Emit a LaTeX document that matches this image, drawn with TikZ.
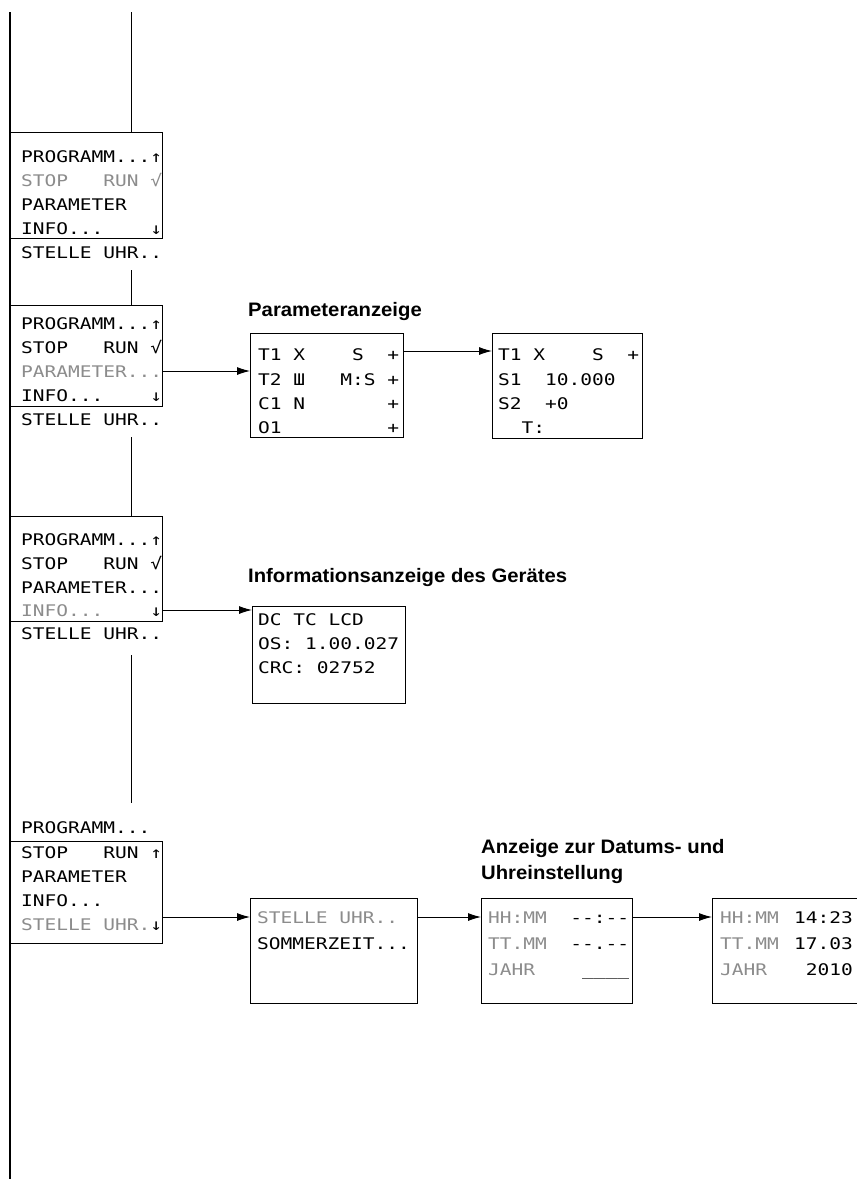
\documentclass[tikz,border=0pt]{standalone}
\usepackage{fontspec}
\usetikzlibrary{arrows.meta}
\newfontfamily\lcd{DejaVu Sans Mono}[FakeStretch=1.22]
\newfontfamily\titelfont{Liberation Sans}[FakeStretch=1.04]
\newcommand\lcdschrift{\lcd\fontsize{16}{16}\selectfont\frenchspacing\spaceskip=\fontcharwd\font`0\relax}
\newcommand\titelschrift{\titelfont\bfseries\fontsize{19.5}{22}\selectfont}
\definecolor{grau}{gray}{0.55}

\begin{document}
\begin{tikzpicture}[x=1pt,y=-1pt]
    % Stile
    \tikzset{
        rahmen/.style={draw, line width=1.1pt, inner sep=0pt, anchor=north west},
        zeile/.style={anchor=base west, inner sep=0pt, font=\lcdschrift},
        aus/.style={zeile, text=grau},
        wert/.style={zeile, anchor=base east},
        titel/.style={anchor=base west, inner sep=0pt, font=\titelschrift},
        pfeil/.style={-{Latex[length=13pt,width=8pt]}, line width=0.9pt},
        linie/.style={line width=0.9pt}
    }
    \useasboundingbox (0,0) rectangle (857,1179);
    \clip (0,0) rectangle (857,1179);

    % Linke Randlinie
    \coordinate (l0) at (10,12);
    \coordinate (l1) at (10,1179);
    \draw[line width=1.2pt] (l0) -- (l1);

    % Menue 1
    \node[rahmen, minimum width=152pt, minimum height=106pt] (m1) at (10,132) {};
    \node[zeile] (m1a) at (21,162) {PROGRAMM...↑};
    \node[aus]   (m1b) at (21,186) {STOP~~~RUN~√};
    \node[zeile] (m1c) at (21,210) {PARAMETER};
    \node[zeile] (m1d) at (21,234) {INFO...~~~~↓};
    \node[zeile] (m1e) at (21,258) {STELLE UHR..};

    % Menue 2
    \node[rahmen, minimum width=152pt, minimum height=101pt] (m2) at (10,305) {};
    \node[zeile] (m2a) at (21,329) {PROGRAMM...↑};
    \node[zeile] (m2b) at (21,353) {STOP~~~RUN~√};
    \node[aus]   (m2c) at (21,377) {PARAMETER...};
    \node[zeile] (m2d) at (21,401) {INFO...~~~~↓};
    \node[zeile] (m2e) at (21,425) {STELLE UHR..};

    % Menue 3
    \node[rahmen, minimum width=152pt, minimum height=105pt] (m3) at (10,516) {};
    \node[zeile] (m3a) at (21,545) {PROGRAMM...↑};
    \node[zeile] (m3b) at (21,569) {STOP~~~RUN~√};
    \node[zeile] (m3c) at (21,593) {PARAMETER...};
    \node[zeile] (m3d) at (21,616) {{\color{grau}INFO...}~~~~↓};
    \node[zeile] (m3e) at (21,639) {STELLE UHR..};

    % Menue 4
    \node[zeile] (m4a) at (21,833) {PROGRAMM...};
    \node[rahmen, minimum width=152pt, minimum height=102pt] (m4) at (10,841) {};
    \node[zeile] (m4b) at (21,858) {STOP~~~RUN~↑};
    \node[zeile] (m4c) at (21,882) {PARAMETER};
    \node[zeile] (m4d) at (21,906) {INFO...};
    \node[zeile] (m4e) at (21,930) {{\color{grau}STELLE UHR.}↓};

    % Senkrechte Verbindungen
    \coordinate (v1) at (131,12);
    \coordinate (v2) at (131,270);
    \coordinate (v3) at (131,437);
    \coordinate (v4) at (131,655);
    \coordinate (v5) at (131,803);
    \draw[linie] (v1) -- (v1 |- m1.north);
    \draw[linie] (v2) -- (v2 |- m2.north);
    \draw[linie] (v3) -- (v3 |- m3.north);
    \draw[linie] (v4) -- (v5);

    % Parameteranzeige
    \node[titel] (t1) at (248,316) {Parameteranzeige};
    \node[rahmen, minimum width=153pt, minimum height=104pt] (p1) at (250,333) {};
    \node[zeile] (p1a) at (258,360) {T1 X~~~~S~~+};
    \node[zeile] (p1b) at (258,385) {T2 Ш~~~M:S~+};
    \node[zeile] (p1c) at (258,409) {C1 N~~~~~~~+};
    \node[zeile] (p1d) at (258,433) {O1~~~~~~~~~+};
    \node[rahmen, minimum width=150pt, minimum height=105pt] (p2) at (492,333) {};
    \node[zeile] (p2a) at (498,360) {T1 X~~~~S~~+};
    \node[zeile] (p2b) at (498,385) {S1~~10.000};
    \node[zeile] (p2c) at (498,409) {S2~~+0};
    \node[zeile] (p2d) at (498,433) {~~T:};

    % Informationsanzeige
    \node[titel] (t2) at (248,582) {Informationsanzeige des Gerätes};
    \node[rahmen, minimum width=153pt, minimum height=97pt] (i1) at (252,606) {};
    \node[zeile] (i1a) at (258,625) {DC TC LCD};
    \node[zeile] (i1b) at (258,649) {OS:~1.00.027};
    \node[zeile] (i1c) at (258,673) {CRC:~02752};

    % Datum und Uhr
    \node[titel] (t3a) at (481,853) {Anzeige zur Datums- und};
    \node[titel] (t3b) at (481,879) {Uhreinstellung};
    \node[rahmen, minimum width=167pt, minimum height=105pt] (s1) at (250,898) {};
    \node[aus]   (s1a) at (257,923) {STELLE UHR..};
    \node[zeile] (s1b) at (257,949) {SOMMERZEIT...};
    \node[rahmen, minimum width=151pt, minimum height=105pt] (d1) at (481,898) {};
    \node[zeile] (d1a) at (488,923) {{\color{grau}HH:MM}~~--:--};
    \node[zeile] (d1b) at (488,949) {{\color{grau}TT.MM}~~--.--};
    \node[zeile] (d1c) at (488,975) {{\color{grau}JAHR}~~~~\_\_\_\_};
    \node[rahmen, minimum width=160pt, minimum height=105pt] (d2) at (712,898) {};
    \node[aus]  (d2a) at (720,923) {HH:MM};
    \node[aus]  (d2b) at (720,949) {TT.MM};
    \node[aus]  (d2c) at (720,975) {JAHR};
    \node[wert] (d2d) at (853,923) {14:23};
    \node[wert] (d2e) at (853,949) {17.03};
    \node[wert] (d2f) at (853,975) {2010};

    % Pfeile
    \coordinate (a1) at (0,371);
    \coordinate (a2) at (0,351);
    \coordinate (a3) at (0,610);
    \coordinate (a4) at (0,917);
    \draw[pfeil] (m2.east |- a1) -- (p1.west |- a1);
    \draw[pfeil] (p1.east |- a2) -- (p2.west |- a2);
    \draw[pfeil] (m3.east |- a3) -- (i1.west |- a3);
    \draw[pfeil] (m4.east |- a4) -- (s1.west |- a4);
    \draw[pfeil] (s1.east |- a4) -- (d1.west |- a4);
    \draw[pfeil] (d1.east |- a4) -- (d2.west |- a4);
\end{tikzpicture}
\end{document}
